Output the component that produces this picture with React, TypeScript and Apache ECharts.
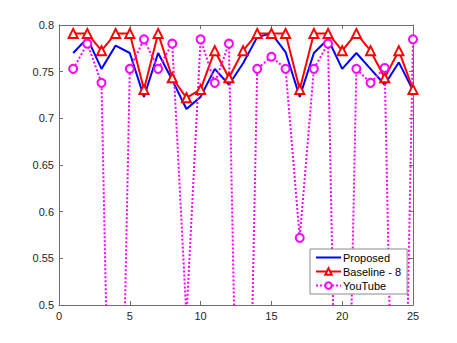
import React, { useEffect, useRef } from "react";
import * as echarts from "echarts";

const xValues = [1, 2, 3, 4, 5, 6, 7, 8, 9, 10, 11, 12, 13, 14, 15, 16, 17, 18, 19, 20, 21, 22, 23, 24, 25];
const proposed = [0.770, 0.786, 0.753, 0.778, 0.770, 0.723, 0.770, 0.741, 0.710, 0.723, 0.753, 0.736, 0.759, 0.787, 0.791, 0.771, 0.723, 0.770, 0.785, 0.753, 0.770, 0.753, 0.736, 0.760, 0.730];
const baseline8 = [0.791, 0.791, 0.7725, 0.791, 0.791, 0.731, 0.791, 0.7435, 0.722, 0.731, 0.7725, 0.7435, 0.7725, 0.791, 0.791, 0.791, 0.731, 0.791, 0.791, 0.7725, 0.791, 0.7725, 0.7435, 0.7725, 0.731];
const youtube = [0.753, 0.780, 0.738, 0, 0.753, 0.7846, 0.753, 0.780, 0.487, 0.7846, 0.738, 0.780, 0, 0.753, 0.766, 0.753, 0.572, 0.753, 0.780, 0, 0.753, 0.738, 0.754, 0, 0.7846];
const seriesNames = ["Proposed", "Baseline - 8", "YouTube"];

const FONT = "'Liberation Sans', Arial, Helvetica, sans-serif";
const AXIS = "#6e6e6e";
const TEXT = "#262626";

export default function App() {
  const ref = useRef<HTMLDivElement>(null);
  useEffect(() => {
    if (!ref.current) return;
    const chart = echarts.init(ref.current, undefined, { renderer: "svg" });
    const pair = (ys: number[]) => xValues.map((x, i) => [x, ys[i]]);
    const baseX = {
      type: "value",
      min: 0,
      max: 25,
      interval: 5,
      axisLine: { show: true, onZero: false, lineStyle: { color: AXIS, width: 1 } },
      axisTick: { show: true, inside: true, length: 4, lineStyle: { color: AXIS } },
      splitLine: { show: false },
    };
    const baseY = {
      type: "value",
      min: 0.5,
      max: 0.8,
      interval: 0.05,
      axisLine: { show: true, onZero: false, lineStyle: { color: AXIS, width: 1 } },
      axisTick: { show: true, inside: true, length: 4, lineStyle: { color: AXIS } },
      splitLine: { show: false },
    };
    chart.setOption({
      animation: false,
      backgroundColor: "#ffffff",
      textStyle: { fontFamily: FONT },
      grid: { left: 59, right: 44, top: 25, bottom: 38, containLabel: false },
      xAxis: [
        {
          ...baseX,
          position: "bottom",
          axisLabel: { show: true, color: TEXT, fontSize: 11, fontFamily: FONT, margin: 5 },
        },
        { ...baseX, position: "top", axisLabel: { show: false } },
      ],
      yAxis: [
        {
          ...baseY,
          position: "left",
          axisLabel: {
            show: true,
            color: TEXT,
            fontSize: 11,
            fontFamily: FONT,
            margin: 5,
            formatter: (v: number) => String(parseFloat(v.toFixed(2))),
          },
        },
        { ...baseY, position: "right", axisLabel: { show: false } },
      ],
      legend: {
        orient: "vertical",
        left: 310,
        top: 249,
        z: 20,
        padding: [3, 6, 3, 5],
        itemGap: 3,
        itemWidth: 25,
        itemHeight: 8,
        backgroundColor: "#ffffff",
        borderColor: "#8a8a8a",
        borderWidth: 1,
        borderRadius: 0,
        textStyle: { color: "#000", fontSize: 11, fontFamily: FONT, padding: [0, 0, 0, -3], lineHeight: 11 },
        data: [
          { name: seriesNames[0], itemStyle: { opacity: 0 } },
          { name: seriesNames[1] },
          { name: seriesNames[2] },
        ],
      },
      series: [
        {
          name: seriesNames[0],
          type: "line",
          data: pair(proposed),
          showSymbol: false,
          symbol: "none",
          lineStyle: { color: "#0000ff", width: 2 },
          itemStyle: { color: "#0000ff" },
          clip: true,
          z: 2,
        },
        {
          name: seriesNames[1],
          type: "line",
          data: pair(baseline8),
          symbol: "emptyTriangle",
          symbolSize: 9,
          lineStyle: { color: "#ff0000", width: 2 },
          itemStyle: { color: "#ff0000", borderColor: "#ff0000", borderWidth: 1.5 },
          clip: true,
          z: 3,
        },
        {
          name: seriesNames[2],
          type: "line",
          data: pair(youtube),
          symbol: "emptyCircle",
          symbolSize: 8,
          lineStyle: { color: "#ff00ff", width: 2, type: [2, 2] },
          itemStyle: { color: "#ff00ff", borderColor: "#ff00ff", borderWidth: 1.5 },
          clip: true,
          z: 3,
        },
      ],
    });
    return () => chart.dispose();
  }, []);
  return (
    <div
      ref={ref}
      style={{ position: "fixed", left: 0, top: 0, width: 457, height: 343, background: "#fff" }}
    />
  );
}
